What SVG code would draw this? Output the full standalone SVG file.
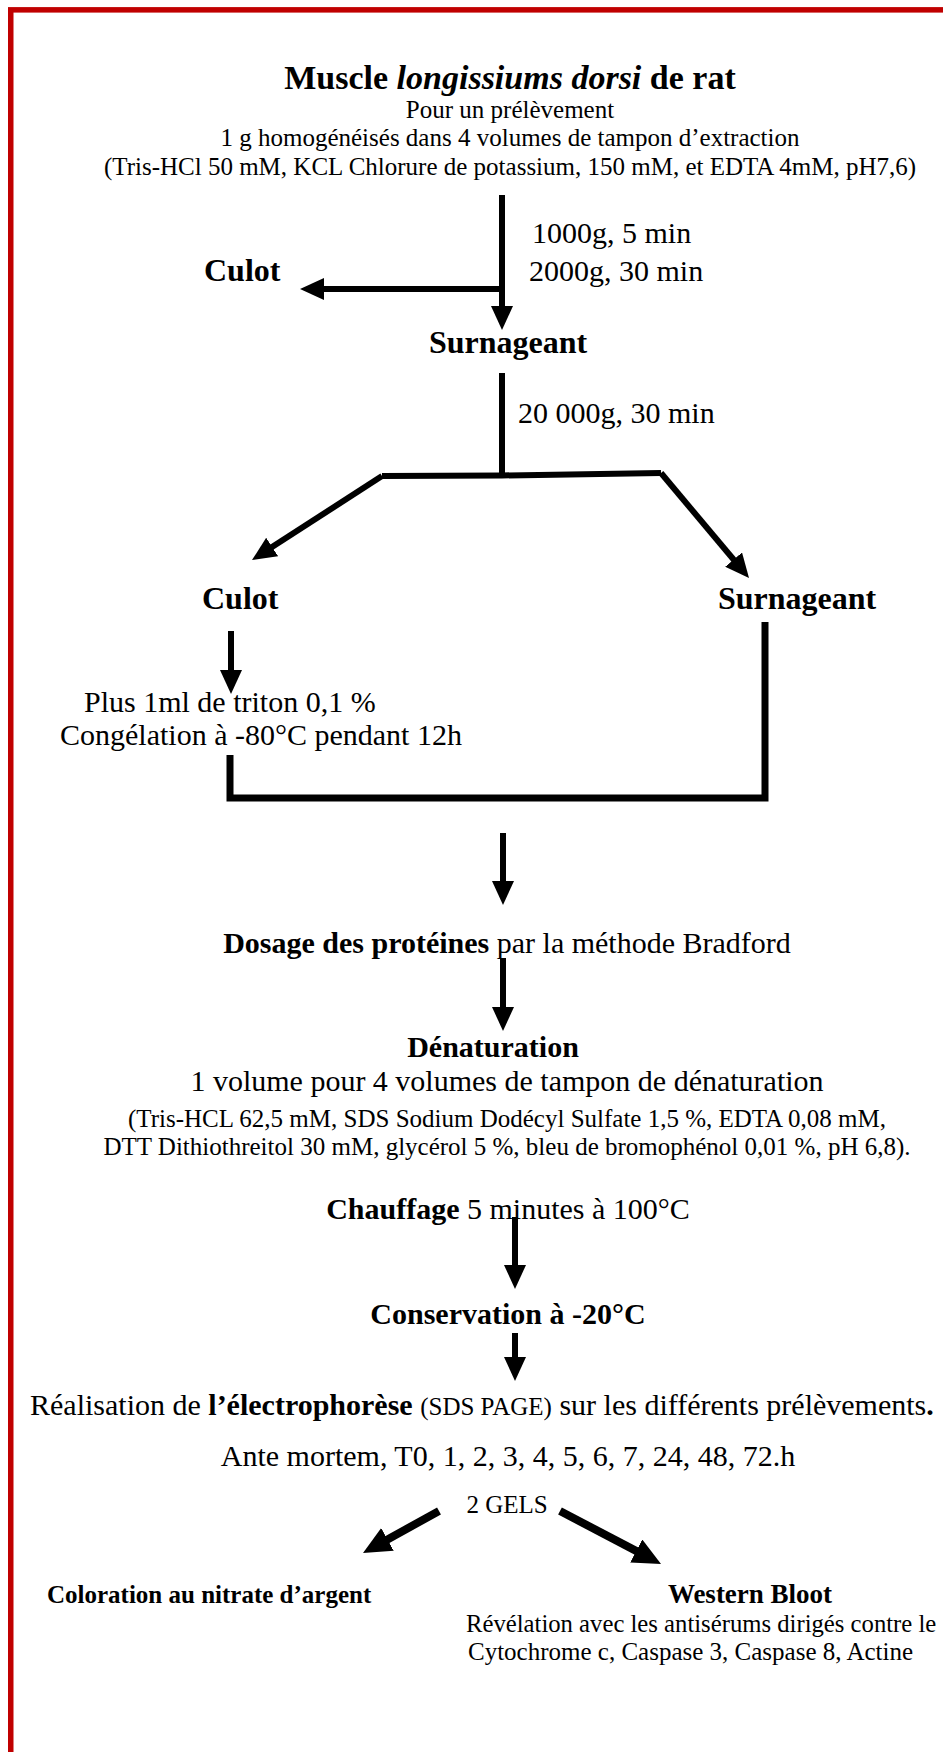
<svg xmlns="http://www.w3.org/2000/svg" width="943" height="1752" viewBox="0 0 943 1752">
<style>
.t{font-family:"Liberation Serif","Times New Roman",serif;fill:#000}
.b{font-weight:bold}
.i{font-style:italic}
.c{text-anchor:middle}
.s25{font-size:25px}
.s30{font-size:30px}
.s32{font-size:32px}
.conn{stroke:#000;stroke-width:6;fill:none}
.thick{stroke:#000;stroke-width:8;fill:none}
</style>
<defs>
<marker id="ah" markerUnits="userSpaceOnUse" markerWidth="24" markerHeight="22" viewBox="0 0 24 22" refX="14" refY="11" orient="auto">
<path d="M0,0 L24,11 L0,22 z" fill="#000"/>
</marker>
<marker id="ah2" markerUnits="userSpaceOnUse" markerWidth="28" markerHeight="26" viewBox="0 0 28 26" refX="16" refY="13" orient="auto">
<path d="M0,0 L28,13 L0,26 z" fill="#000"/>
</marker>
</defs>
<rect x="0" y="0" width="943" height="1752" fill="#fff"/>
<rect id="frame" x="10.75" y="9.85" width="1000" height="1800" fill="none" stroke="#c00000" stroke-width="5.5"/>

<g id="connectors">
<path class="conn" d="M502,195 V320" marker-end="url(#ah)"/>
<path class="conn" d="M502,289 H310" marker-end="url(#ah)"/>
<path class="conn" d="M502,373 V476"/>
<path class="conn" d="M382,476 L502,475.5 L661,473"/>
<path class="conn" d="M382,476 L260.4,554.6" marker-end="url(#ah)"/>
<path class="conn" d="M661,473 L742.6,570.3" marker-end="url(#ah)"/>
<path class="conn" d="M231,631 V684" marker-end="url(#ah)"/>
<path class="conn" style="stroke-width:7" d="M230,755 V798 H765 V622"/>
<path class="conn" d="M503,833 V895" marker-end="url(#ah)"/>
<path class="conn" d="M503,958 V1021" marker-end="url(#ah)"/>
<path class="conn" d="M515,1217 V1279" marker-end="url(#ah)"/>
<path class="conn" d="M515,1333 V1371" marker-end="url(#ah)"/>
<path class="thick" d="M439,1511 L373.5,1547.2" marker-end="url(#ah2)"/>
<path class="thick" d="M560,1511 L650.4,1558.4" marker-end="url(#ah2)"/>
</g>

<g id="muscle">
<text class="t c b" x="510" y="89" style="font-size:34px">Muscle <tspan class="i">longissiums dorsi</tspan> de rat</text>
<text class="t c s25" x="510" y="118">Pour un prélèvement</text>
<text class="t c s25" x="510" y="146">1 g homogénéisés dans 4 volumes de tampon d’extraction</text>
<text class="t c s25" x="510" y="175">(Tris-HCl 50 mM, KCL Chlorure de potassium, 150 mM, et EDTA 4mM, pH7,6)</text>
</g>

<g id="centrif1">
<text class="t s30" x="532" y="243">1000g, 5 min</text>
<text class="t s30" x="529" y="281">2000g, 30 min</text>
</g>

<g id="culot1">
<text class="t b s32" x="204" y="281">Culot</text>
</g>

<g id="surnageant1">
<text class="t c b s32" x="508" y="353">Surnageant</text>
</g>

<g id="centrif2">
<text class="t s30" x="518" y="423">20 000g, 30 min</text>
</g>

<g id="culot2">
<text class="t b s32" x="202" y="609">Culot</text>
</g>

<g id="surnageant2">
<text class="t b s32" x="718" y="609">Surnageant</text>
</g>

<g id="triton">
<text class="t s30" x="84" y="712">Plus 1ml de triton 0,1 %</text>
<text class="t s30" x="60" y="745">Congélation à -80°C pendant 12h</text>
</g>

<g id="dosage">
<text class="t c s30" x="507" y="953"><tspan class="b">Dosage des protéines</tspan> par la méthode Bradford</text>
</g>

<g id="denaturation">
<text class="t c b s30" x="493" y="1057">Dénaturation</text>
<text class="t c s30" x="507" y="1091">1 volume pour 4 volumes de tampon de dénaturation</text>
<text class="t c s25" x="507" y="1127">(Tris-HCL 62,5 mM, SDS Sodium Dodécyl Sulfate 1,5 %, EDTA 0,08 mM,</text>
<text class="t c s25" x="507" y="1155">DTT Dithiothreitol 30 mM, glycérol 5 %, bleu de bromophénol 0,01 %, pH 6,8).</text>
</g>

<g id="chauffage">
<text class="t c s30" x="508" y="1219"><tspan class="b">Chauffage</tspan> 5 minutes à 100°C</text>
</g>

<g id="conservation">
<text class="t c b s30" x="508" y="1324">Conservation à -20°C</text>
</g>

<g id="electrophorese">
<text class="t s30" x="30" y="1415">Réalisation de <tspan class="b">l’électrophorèse</tspan> <tspan class="s25">(SDS PAGE)</tspan> sur les différents prélèvements<tspan class="b">.</tspan></text>
<text class="t c s30" x="508" y="1466">Ante mortem, T0, 1, 2, 3, 4, 5, 6, 7, 24, 48, 72.h</text>
</g>

<g id="gels">
<text class="t c s25" x="507" y="1513">2 GELS</text>
</g>

<g id="coloration">
<text class="t b s25" x="47" y="1603">Coloration au nitrate d’argent</text>
</g>

<g id="western">
<text class="t c b" x="750" y="1603" style="font-size:27px">Western Bloot</text>
<text class="t" x="466" y="1632" style="font-size:24.7px">Révélation avec les antisérums dirigés contre le</text>
<text class="t s25" x="468" y="1660">Cytochrome c, Caspase 3, Caspase 8, Actine</text>
</g>
</svg>
